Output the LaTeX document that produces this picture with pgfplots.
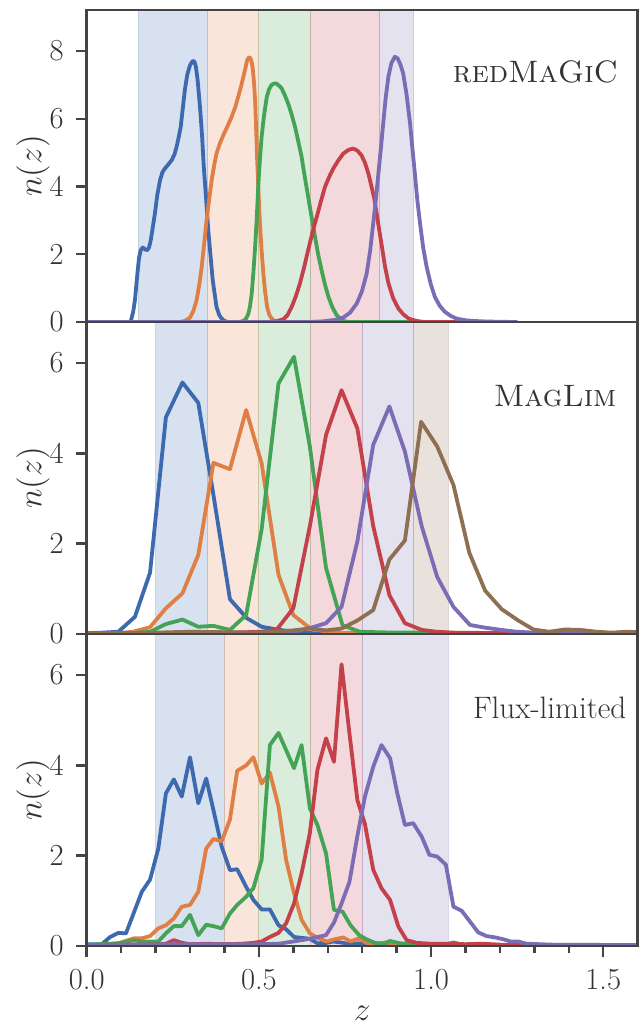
\documentclass[border=0pt]{standalone}
\usepackage{fix-cm}
\usepackage{fontspec}
\usepackage{pgfplots}
\pgfplotsset{compat=1.18}
\definecolor{cA}{HTML}{3D69AE}
\definecolor{cB}{HTML}{DF7F45}
\definecolor{cC}{HTML}{45A356}
\definecolor{cD}{HTML}{C4404A}
\definecolor{cE}{HTML}{7B6CB4}
\definecolor{cF}{HTML}{8F6F52}
\definecolor{axcol}{HTML}{444444}
\definecolor{txtcol}{HTML}{333333}
\pgfplotsset{
  panel/.style={
    width=275.5pt, height=156pt, scale only axis,
    xmin=0, xmax=1.6, ymin=0,
    axis line style={draw=axcol, line width=1.35pt},
    tick style={draw=axcol, line width=1.2pt},
    major tick length=5.3pt, minor tick length=3.7pt,
    tick align=outside,
    ytick pos=left,
    axis on top,
    /pgf/number format/assume math mode=true,
    tick label style={font=\fontsize{15.3}{18}\selectfont, text=txtcol},
    label style={font=\fontsize{16.7}{20}\selectfont, text=txtcol},
    ylabel={$n(z)$},
    ylabel style={at={(axis description cs:-0.0975,0.5)}, anchor=center},
    yticklabel style={anchor=east, inner sep=0pt, xshift=-6pt},
    every axis plot/.append style={line width=1.9pt, line join=round},
  },
  band/.style={fill=#1, fill opacity=0.2, draw=#1, draw opacity=0.22, line width=0.5pt, forget plot},
}
\newcommand{\band}[3]{\addplot[band=#1] coordinates {(#2,0) (#2,30) (#3,30) (#3,0)} \closedcycle;}
\begin{document}
\begin{tikzpicture}
% ---------------- Panel 3: Flux-limited
\begin{axis}[panel, at={(0,0)}, anchor=south west,
  ymax=6.91, ytick={0,2,4,6},
  xtick={0,0.5,1,1.5}, minor x tick num=4, xtick pos=bottom,
  xticklabel style={/pgf/number format/fixed, /pgf/number format/fixed zerofill, /pgf/number format/precision=1, anchor=north, inner sep=0pt, yshift=-6pt},
  xlabel={$z$},
  xlabel style={at={(axis description cs:0.5,0)}, anchor=north, inner sep=0pt, yshift=-30pt},
]
\band{cA}{0.20}{0.40}
\band{cB}{0.40}{0.50}
\band{cC}{0.50}{0.65}
\band{cD}{0.65}{0.80}
\band{cE}{0.80}{1.05}
\addplot[cA] coordinates {(0,0.04) (0.044,0.04) (0.068,0.2) (0.092,0.29) (0.114,0.28) (0.137,0.74) (0.160,1.2) (0.184,1.47) (0.208,2.16) (0.230,3.38) (0.253,3.69) (0.276,3.31) (0.300,4.18) (0.324,3.16) (0.347,3.71) (0.368,3.01) (0.392,2.20) (0.416,1.68) (0.437,1.7) (0.463,1.31) (0.484,1.02) (0.508,0.81) (0.532,0.81) (0.557,0.46) (0.579,0.37) (0.602,0.2) (0.624,0.18) (0.648,0.16) (0.670,0.06) (0.697,0.07) (0.716,0.1) (0.745,0.07) (0.766,0.03) (0.79,0.06) (0.81,0.02) (0.85,0.03) (0.9,0.01) (1.6,0.0)};
\addplot[cB] coordinates {(0,0.01) (0.039,0.02) (0.092,0.06) (0.137,0.17) (0.160,0.17) (0.184,0.22) (0.208,0.39) (0.230,0.46) (0.253,0.61) (0.276,0.87) (0.300,0.91) (0.324,1.2) (0.347,2.16) (0.368,2.37) (0.392,2.32) (0.416,2.8) (0.437,3.88) (0.463,4.0) (0.484,4.18) (0.508,3.6) (0.532,3.84) (0.557,3.09) (0.579,1.91) (0.602,1.17) (0.624,0.58) (0.648,0.28) (0.670,0.18) (0.697,0.1) (0.721,0.15) (0.745,0.19) (0.766,0.1) (0.791,0.17) (0.812,0.07) (0.84,0.05) (0.87,0.08) (0.9,0.04) (0.95,0.03) (1.0,0.02) (1.6,0.0)};
\addplot[cC] coordinates {(0,0.02) (0.039,0.04) (0.092,0.06) (0.137,0.13) (0.160,0.1) (0.184,0.1) (0.208,0.1) (0.230,0.28) (0.253,0.44) (0.276,0.44) (0.300,0.69) (0.324,0.24) (0.347,0.47) (0.368,0.44) (0.392,0.39) (0.416,0.72) (0.437,0.91) (0.463,1.09) (0.484,1.28) (0.508,1.91) (0.532,4.45) (0.557,4.72) (0.579,4.34) (0.602,3.94) (0.624,4.45) (0.648,3.05) (0.670,2.68) (0.695,2.05) (0.718,0.8) (0.743,0.76) (0.766,0.46) (0.791,0.24) (0.812,0.15) (0.837,0.07) (0.86,0.05) (0.881,0.11) (0.91,0.06) (0.95,0.04) (1.0,0.04) (1.04,0.03) (1.065,0.08) (1.09,0.03) (1.2,0.02) (1.6,0.01)};
\addplot[cD] coordinates {(0,0.02) (0.1,0.03) (0.2,0.03) (0.23,0.05) (0.253,0.13) (0.276,0.07) (0.30,0.04) (0.35,0.05) (0.4,0.04) (0.45,0.05) (0.484,0.07) (0.508,0.1) (0.532,0.2) (0.557,0.29) (0.579,0.5) (0.602,0.94) (0.624,1.61) (0.648,2.5) (0.670,3.9) (0.695,4.6) (0.718,4.08) (0.740,6.24) (0.763,4.71) (0.786,3.23) (0.808,2.7) (0.832,1.69) (0.856,1.28) (0.881,1.02) (0.905,0.43) (0.929,0.13) (0.958,0.07) (1.0,0.05) (1.05,0.05) (1.1,0.04) (1.15,0.05) (1.2,0.03) (1.25,0.02) (1.6,0.01)};
\addplot[cE] coordinates {(0,0.02) (0.1,0.03) (0.3,0.04) (0.5,0.04) (0.557,0.05) (0.600,0.1) (0.648,0.16) (0.695,0.24) (0.718,0.52) (0.740,0.94) (0.763,1.42) (0.786,2.44) (0.808,3.31) (0.832,3.97) (0.856,4.45) (0.881,4.16) (0.902,3.38) (0.924,2.68) (0.948,2.72) (0.973,2.42) (0.995,2.02) (1.018,1.98) (1.043,1.8) (1.065,0.87) (1.089,0.78) (1.113,0.54) (1.137,0.3) (1.161,0.22) (1.186,0.19) (1.209,0.15) (1.231,0.1) (1.253,0.1) (1.277,0.05) (1.35,0.03) (1.6,0.02)};
\node[anchor=north east, inner sep=0pt, font=\fontsize{15.5}{18}\selectfont, text=txtcol] at (rel axis cs:0.980,0.799) {Flux-limited};
\end{axis}
% ---------------- Panel 2: MagLim
\begin{axis}[panel, at={(0,156pt)}, anchor=south west,
  ymax=6.91, ytick={0,2,4,6}, xtick=\empty,
]
\band{cA}{0.20}{0.35}
\band{cB}{0.35}{0.50}
\band{cC}{0.50}{0.65}
\band{cD}{0.65}{0.80}
\band{cE}{0.80}{0.95}
\band{cF}{0.95}{1.05}
\addplot[cA] coordinates {(0,0.02) (0.046,0.03) (0.092,0.05) (0.140,0.38) (0.184,1.36) (0.230,4.80) (0.278,5.57) (0.324,5.12) (0.368,3.08) (0.416,0.77) (0.465,0.35) (0.508,0.16) (0.552,0.1) (0.600,0.05) (0.648,0.02) (0.70,0.01) (0.8,0.01) (1.6,0.0)};
\addplot[cB] coordinates {(0,0.01) (0.092,0.02) (0.135,0.05) (0.184,0.15) (0.230,0.57) (0.278,0.9) (0.324,1.75) (0.368,3.79) (0.416,3.65) (0.463,4.96) (0.508,3.78) (0.557,1.31) (0.600,0.42) (0.648,0.13) (0.697,0.05) (0.743,0.02) (1.6,0.01)};
\addplot[cC] coordinates {(0,0.01) (0.140,0.02) (0.184,0.05) (0.230,0.22) (0.278,0.32) (0.324,0.16) (0.368,0.18) (0.416,0.09) (0.463,0.42) (0.508,2.32) (0.557,5.55) (0.602,6.14) (0.648,4.15) (0.695,1.46) (0.743,0.19) (0.793,0.05) (0.84,0.04) (0.9,0.03) (1.0,0.03) (1.1,0.02) (1.6,0.01)};
\addplot[cD] coordinates {(0,0.01) (0.3,0.02) (0.416,0.03) (0.465,0.04) (0.508,0.05) (0.552,0.1) (0.600,0.57) (0.648,2.39) (0.695,4.41) (0.740,5.40) (0.786,4.55) (0.832,2.39) (0.879,0.86) (0.924,0.24) (0.973,0.09) (1.016,0.05) (1.065,0.03) (1.2,0.02) (1.6,0.01)};
\addplot[cE] coordinates {(0,0.01) (0.5,0.02) (0.600,0.05) (0.648,0.13) (0.695,0.24) (0.740,0.6) (0.786,2.05) (0.832,4.19) (0.879,5.04) (0.924,4.04) (0.973,2.38) (1.018,1.26) (1.065,0.6) (1.113,0.2) (1.157,0.14) (1.205,0.09) (1.248,0.05) (1.3,0.03) (1.6,0.01)};
\addplot[cF] coordinates {(0,0.01) (0.2,0.03) (0.3,0.05) (0.4,0.04) (0.5,0.03) (0.6,0.08) (0.648,0.12) (0.695,0.08) (0.740,0.12) (0.786,0.3) (0.832,0.53) (0.879,1.65) (0.924,2.07) (0.971,4.70) (1.018,4.15) (1.065,3.3) (1.111,1.80) (1.157,0.96) (1.205,0.55) (1.253,0.3) (1.297,0.1) (1.343,0.05) (1.389,0.1) (1.434,0.09) (1.480,0.05) (1.524,0.03) (1.568,0.05) (1.6,0.04)};
\node[anchor=north east, inner sep=0pt, font=\fontsize{15.5}{18}\selectfont, text=txtcol] at (rel axis cs:0.962,0.798) {\textsc{MagLim}};
\end{axis}
% ---------------- Panel 1: redMaGiC
\begin{axis}[panel, at={(0,312pt)}, anchor=south west,
  ymax=9.21, ytick={0,2,4,6,8}, xtick=\empty,
]
\band{cA}{0.15}{0.35}
\band{cB}{0.35}{0.50}
\band{cC}{0.50}{0.65}
\band{cD}{0.65}{0.85}
\band{cE}{0.85}{0.95}
\addplot[cA] coordinates {(0,0) (0.125,0) (0.128,0.02) (0.135,0.3) (0.140,0.64) (0.147,1.4) (0.152,1.9) (0.157,2.12) (0.163,2.2) (0.170,2.14) (0.176,2.12) (0.181,2.2) (0.186,2.41) (0.192,2.8) (0.198,3.2) (0.205,3.75) (0.213,4.19) (0.220,4.42) (0.227,4.53) (0.237,4.65) (0.247,4.78) (0.255,4.95) (0.261,5.17) (0.267,5.45) (0.273,5.76) (0.279,6.3) (0.285,6.85) (0.292,7.3) (0.300,7.58) (0.308,7.71) (0.313,7.68) (0.317,7.54) (0.322,7.15) (0.329,6.35) (0.335,5.5) (0.340,4.58) (0.347,3.6) (0.353,2.71) (0.360,1.9) (0.366,1.23) (0.372,0.8) (0.377,0.44) (0.385,0.2) (0.392,0.1) (0.400,0.03) (0.410,0) (1.25,0)};
\addplot[cB] coordinates {(0,0) (0.27,0) (0.285,0.03) (0.300,0.13) (0.310,0.33) (0.319,0.64) (0.327,1.1) (0.334,1.63) (0.341,2.3) (0.348,3.0) (0.356,3.65) (0.363,4.19) (0.370,4.62) (0.377,4.97) (0.387,5.28) (0.397,5.52) (0.409,5.78) (0.421,6.06) (0.431,6.33) (0.440,6.65) (0.448,6.95) (0.455,7.24) (0.461,7.5) (0.466,7.73) (0.470,7.8) (0.474,7.81) (0.478,7.72) (0.482,7.5) (0.486,7.05) (0.489,6.55) (0.492,5.7) (0.495,4.78) (0.499,3.8) (0.503,2.91) (0.508,2.1) (0.513,1.43) (0.518,0.9) (0.524,0.44) (0.530,0.22) (0.537,0.1) (0.545,0.03) (0.555,0) (1.25,0)};
\addplot[cC] coordinates {(0,0) (0.445,0) (0.455,0.03) (0.462,0.09) (0.469,0.23) (0.474,0.45) (0.479,0.82) (0.484,1.45) (0.489,2.2) (0.494,3.1) (0.498,3.99) (0.503,4.8) (0.508,5.47) (0.515,6.1) (0.523,6.65) (0.530,6.88) (0.537,7.0) (0.544,7.04) (0.551,7.04) (0.558,6.98) (0.566,6.9) (0.575,6.7) (0.585,6.45) (0.595,6.13) (0.605,5.76) (0.614,5.35) (0.624,4.88) (0.633,4.3) (0.643,3.70) (0.653,3.1) (0.663,2.51) (0.672,2.0) (0.682,1.53) (0.692,1.1) (0.702,0.74) (0.714,0.42) (0.726,0.2) (0.736,0.09) (0.745,0.03) (0.76,0) (1.25,0)};
\addplot[cD] coordinates {(0,0) (0.53,0) (0.55,0.02) (0.571,0.08) (0.583,0.2) (0.595,0.44) (0.607,0.75) (0.619,1.13) (0.631,1.6) (0.643,2.12) (0.655,2.62) (0.668,3.1) (0.680,3.56) (0.692,3.99) (0.704,4.28) (0.716,4.53) (0.730,4.76) (0.745,4.97) (0.760,5.08) (0.774,5.12) (0.786,5.06) (0.798,4.92) (0.808,4.7) (0.818,4.38) (0.827,4.0) (0.835,3.65) (0.845,3.0) (0.856,2.3) (0.866,1.65) (0.876,1.15) (0.890,0.7) (0.905,0.4) (0.919,0.23) (0.935,0.1) (0.958,0.03) (0.98,0) (1.25,0)};
\addplot[cE] coordinates {(0,0) (0.65,0) (0.687,0.02) (0.72,0.06) (0.745,0.13) (0.765,0.28) (0.784,0.54) (0.799,0.9) (0.813,1.43) (0.823,2.1) (0.832,2.91) (0.840,3.65) (0.847,4.38) (0.854,5.1) (0.861,5.86) (0.868,6.6) (0.876,7.24) (0.885,7.65) (0.895,7.83) (0.903,7.78) (0.911,7.6) (0.919,7.34) (0.929,6.7) (0.939,5.86) (0.946,5.1) (0.953,4.38) (0.960,3.6) (0.968,2.91) (0.977,2.2) (0.987,1.63) (0.999,1.12) (1.011,0.74) (1.025,0.48) (1.040,0.3) (1.057,0.18) (1.074,0.1) (1.10,0.05) (1.142,0.02) (1.20,0.005) (1.25,0)};
\node[anchor=north east, inner sep=0pt, font=\fontsize{15.5}{18}\selectfont, text=txtcol] at (rel axis cs:0.965,0.840) {\textsc{redMaGiC}};
\end{axis}
\pgfresetboundingbox
\useasboundingbox (-43.35pt,-40pt) rectangle (277.15pt,473pt);
\end{tikzpicture}
\end{document}
